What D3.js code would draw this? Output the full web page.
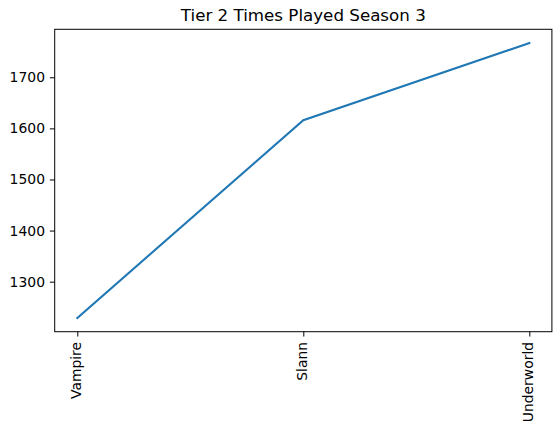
<!DOCTYPE html>
<html><head><meta charset="utf-8">
<script src="https://cdn.jsdelivr.net/npm/d3@7"></script>
<style>body{margin:0;background:#fff}svg{display:block}text{font-family:"DejaVu Sans",sans-serif;fill:#000}</style>
</head><body>
<svg id="c" width="560" height="432"></svg>
<script>
const categories = ["Vampire", "Slann", "Underworld"];
const values = [1229, 1616, 1767];
const yTicks = [1300, 1400, 1500, 1600, 1700];
const title = "Tier 2 Times Played Season 3";

const svg = d3.select("#c");
const L = 54.7, R = 551.9, T = 29.3, B = 331.7;
const tickLen = 4.86, tickPad = 4.86, fs = 13.9;
const n = categories.length;
const xpad = (n - 1) * 0.05;
const x = d3.scaleLinear().domain([-xpad, n - 1 + xpad]).range([L, R]);
const ymin = d3.min(values), ymax = d3.max(values), yr = ymax - ymin;
const y = d3.scaleLinear().domain([ymin - yr * 0.05, ymax + yr * 0.05]).range([B, T]);

svg.append("path")
  .datum(values)
  .attr("fill", "none")
  .attr("stroke", "#1f77b4")
  .attr("stroke-width", 2.08)
  .attr("stroke-linecap", "square")
  .attr("d", d3.line().x((d, i) => x(i)).y(d => y(d)));

svg.append("rect").attr("x", L).attr("y", T).attr("width", R - L).attr("height", B - T)
  .attr("fill", "none").attr("stroke", "#000").attr("stroke-width", 1);

const ya = svg.append("g").attr("transform", `translate(${L},0)`)
  .call(d3.axisLeft(y).tickValues(yTicks).tickSize(tickLen).tickPadding(tickPad).tickFormat(d3.format("d")));
ya.select(".domain").remove();
ya.selectAll("text").style("font-size", fs + "px").style("font-family", "DejaVu Sans");

const xa = svg.append("g").attr("transform", `translate(0,${B})`)
  .call(d3.axisBottom(x).tickValues(d3.range(n)).tickSize(tickLen).tickFormat(i => categories[i]));
xa.select(".domain").remove();
xa.selectAll("text")
  .style("font-size", fs + "px").style("font-family", "DejaVu Sans")
  .attr("text-anchor", "end")
  .attr("dy", null)
  .attr("x", 0).attr("y", 0)
  .attr("transform", `translate(3.6,${tickLen + tickPad + 0.5}) rotate(-90)`);

svg.append("text").attr("x", (L + R) / 2).attr("y", T - 8.5)
  .attr("text-anchor", "middle").style("font-size", "16.7px").text(title);
</script>
</body></html>
